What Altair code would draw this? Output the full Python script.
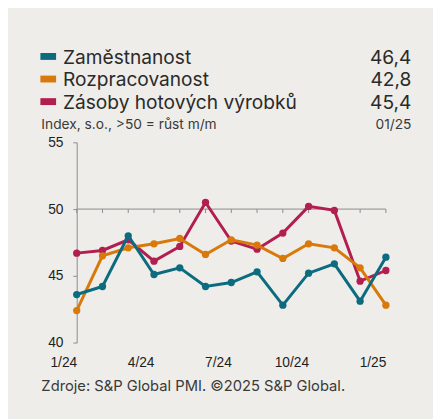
import altair as alt
import pandas as pd

# ---- data ----
months = ["1/24", "2/24", "3/24", "4/24", "5/24", "6/24", "7/24", "8/24",
          "9/24", "10/24", "11/24", "12/24", "1/25"]
zamestnanost = [43.6, 44.2, 48.0, 45.1, 45.6, 44.2, 44.5, 45.3, 42.8, 45.2, 45.9, 43.1, 46.4]
rozpracovanost = [42.4, 46.5, 47.1, 47.4, 47.8, 46.6, 47.7, 47.3, 46.3, 47.4, 47.1, 45.6, 42.8]
zasoby = [46.7, 46.9, 47.7, 46.1, 47.2, 50.5, 47.6, 47.0, 48.2, 50.2, 49.9, 44.6, 45.4]

series_names = ["Zaměstnanost", "Rozpracovanost", "Zásoby hotových výrobků"]
series_values = [zamestnanost, rozpracovanost, zasoby]
series_colors = ["#0d6b80", "#d9790a", "#b31e50"]
latest_labels = ["46,4", "42,8", "45,4"]

x_tick_labels = ["1/24", "4/24", "7/24", "10/24", "1/25"]
y_ticks = [40, 45, 50, 55]
subtitle = "Index, s.o., >50 = růst m/m"
date_label = "01/25"
source = "Zdroje: S&P Global PMI. ©2025 S&P Global."

BG = "#eeede9"
TXT = "#2a2a2a"
AXC = "#8c8c8c"
FONT = "Inter"

rows = []
for name, vals in zip(series_names, series_values):
    for m, v in zip(months, vals):
        rows.append({"month": m, "value": v, "series": name})
df = pd.DataFrame(rows)
one = pd.DataFrame({"k": [0]})
month_df = pd.DataFrame({"month": months})

x_enc = alt.X("month:O", sort=months,
              scale=alt.Scale(type="point", padding=0),
              axis=alt.Axis(values=x_tick_labels, labelAngle=0, domain=False, ticks=False,
                            labelPadding=20, title=None, labelFont="Liberation Sans",
                            labelFontSize=14, labelColor="#1e1e1e", grid=False))
y_scale = alt.Scale(domain=[40, 55], nice=False, zero=False)
y_enc = alt.Y("value:Q", scale=y_scale,
              axis=alt.Axis(values=y_ticks, title=None, grid=False, domainColor=AXC,
                            tickColor=AXC, tickSize=4, labelPadding=10,
                            labelFont="Liberation Sans", labelFontSize=14,
                            labelColor="#1e1e1e"))

layers = []
# line at 50 and month ticks
layers.append(alt.Chart(one).mark_rule(color=AXC, strokeWidth=1).encode(
    y=alt.Y(datum=50, scale=y_scale)))
layers.append(alt.Chart(month_df).mark_rule(color=AXC, strokeWidth=1, y2Offset=4).encode(
    x=alt.X("month:O", sort=months, scale=alt.Scale(type="point", padding=0)),
    y=alt.Y(datum=50, scale=y_scale), y2=alt.Y2(datum=50)))

# series: draw crimson, orange, then teal on top
for i in [2, 1, 0]:
    name = series_names[i]
    base = alt.Chart(df).transform_filter(alt.datum.series == name)
    layers.append(base.mark_line(color=series_colors[i], strokeWidth=3).encode(x=x_enc, y=y_enc))
    layers.append(base.mark_circle(color=series_colors[i], size=55, opacity=1).encode(x=x_enc, y=y_enc))

# legend block
for i, (name, col, lab) in enumerate(zip(series_names, series_colors, latest_labels)):
    yb = -80 + i * 23
    yc = yb - 7.5
    layers.append(alt.Chart(one).mark_rect(color=col).encode(
        x=alt.value(-37), x2=alt.value(-21), y=alt.value(yc - 3.5), y2=alt.value(yc + 3.5)))
    layers.append(alt.Chart(one).mark_text(align="left", baseline="alphabetic", font=FONT,
                                           fontSize=19.5, color=TXT).encode(
        x=alt.value(-14), y=alt.value(yb), text=alt.value(name)))
    layers.append(alt.Chart(one).mark_text(align="right", baseline="alphabetic", font=FONT,
                                           fontSize=19.5, color=TXT).encode(
        x=alt.value(341), y=alt.value(yb), text=alt.value(lab)))

layers.append(alt.Chart(one).mark_text(align="left", baseline="alphabetic", font=FONT,
                                       fontSize=14, color="#3a3a3a").encode(
    x=alt.value(-36), y=alt.value(-14), text=alt.value(subtitle)))
layers.append(alt.Chart(one).mark_text(align="right", baseline="alphabetic", font=FONT,
                                       fontSize=14, color="#3a3a3a").encode(
    x=alt.value(341), y=alt.value(-14), text=alt.value(date_label)))
layers.append(alt.Chart(one).mark_text(align="left", baseline="alphabetic", font=FONT,
                                       fontSize=15, color="#3a3a3a").encode(
    x=alt.value(-36), y=alt.value(253), text=alt.value(source)))

chart = alt.layer(*layers).properties(
    width=315, height=204,
    padding={"left": 70, "top": 133, "right": 48, "bottom": 74},
    autosize=alt.AutoSizeParams(type="none"),
    background=BG,
).configure_view(strokeWidth=0)

chart.save("out.html", embed_options={"renderer": "svg", "actions": False})
